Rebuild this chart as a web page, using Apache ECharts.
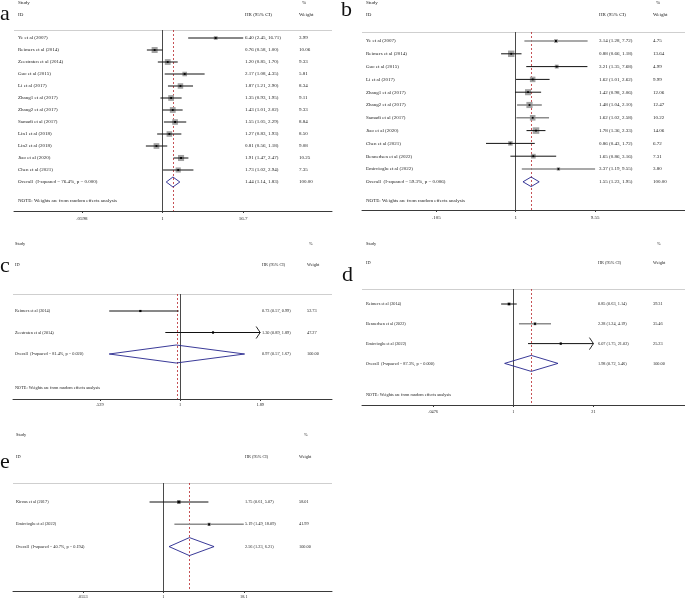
<!DOCTYPE html>
<html><head><meta charset="utf-8">
<script src="https://cdn.jsdelivr.net/npm/echarts@6/dist/echarts.min.js"></script>
<style>html,body{margin:0;padding:0;background:#fff}#c{width:685px;height:600px}</style>
</head><body><div id="c"></div>
<script>
// ---------- Panel a ----------
const studiesA = ["Ye et al (2007)", "Reimers et al (2014)", "Zeestraten et al (2014)", "Guo et al (2015)", "Li et al (2017)", "Zhang1 et al (2017)", "Zhang2 et al (2017)", "Samadi et al (2017)", "Lin1 et al (2018)", "Lin2 et al (2018)", "Jiao et al (2020)", "Chen et al (2021)"];
const hrA = [6.40, 0.76, 1.20, 2.17, 1.87, 1.35, 1.43, 1.55, 1.27, 0.81, 1.91, 1.73];
const lowA = [2.45, 0.58, 0.85, 1.08, 1.21, 0.93, 1.01, 1.05, 0.83, 0.56, 1.47, 1.02];
const highA = [16.71, 1.00, 1.70, 4.35, 2.90, 1.95, 2.02, 2.29, 1.93, 1.18, 2.47, 2.94];
const weightA = [3.99, 10.06, 9.33, 5.81, 8.34, 9.11, 9.33, 8.84, 8.50, 9.08, 10.25, 7.35];
const overallA = [1.44, 1.14, 1.83];
const overallLabelA = "Overall  (I-squared = 76.4%, p = 0.000)";
const tickValuesA = [0.0598, 1, 16.7];
const tickLabelsA = [".0598", "1", "16.7"];

// ---------- Panel b ----------
const studiesB = ["Ye et al (2007)", "Reimers et al (2014)", "Guo et al (2015)", "Li et al (2017)", "Zhang1 et al (2017)", "Zhang2 et al (2017)", "Samadi et al (2017)", "Jiao et al (2020)", "Chen et al (2021)", "Bennedsen et al (2022)", "Emircioglu et al (2022)"];
const hrB = [3.14, 0.88, 3.21, 1.62, 1.42, 1.48, 1.62, 1.78, 0.86, 1.65, 3.37];
const lowB = [1.28, 0.66, 1.35, 1.01, 0.98, 1.04, 1.02, 1.36, 0.43, 0.86, 1.19];
const highB = [7.72, 1.18, 7.68, 2.62, 2.06, 2.10, 2.58, 2.33, 1.72, 3.16, 9.55];
const weightB = [4.75, 13.64, 4.99, 9.99, 12.06, 12.47, 10.22, 14.06, 6.72, 7.31, 3.80];
const overallB = [1.55, 1.23, 1.95];
const overallLabelB = "Overall  (I-squared = 59.3%, p = 0.006)";
const tickValuesB = [0.105, 1, 9.55];
const tickLabelsB = [".105", "1", "9.55"];

// ---------- Panel c ----------
const studiesC = ["Reimers et al (2014)", "Zeestraten et al (2014)"];
const hrC = [0.73, 1.30];
const lowC = [0.57, 0.89];
const highC = [0.99, 1.89];
const weightC = [52.73, 47.27];
const overallC = [0.97, 0.57, 1.67];
const overallLabelC = "Overall  (I-squared = 81.4%, p = 0.020)";
const tickValuesC = [0.529, 1, 1.89];
const tickLabelsC = [".529", "1", "1.89"];

// ---------- Panel d ----------
const studiesD = ["Reimers et al (2014)", "Bennedsen et al (2022)", "Emircioglu et al (2022)"];
const hrD = [0.85, 2.28, 6.07];
const lowD = [0.63, 1.24, 1.75];
const highD = [1.14, 4.19, 21.02];
const weightD = [39.31, 35.46, 25.23];
const overallD = [1.98, 0.72, 5.46];
const overallLabelD = "Overall  (I-squared = 87.3%, p = 0.000)";
const tickValuesD = [0.0476, 1, 21];
const tickLabelsD = [".0476", "1", "21"];

// ---------- Panel e ----------
const studiesE = ["Kirous et al (2017)", "Emircioglu et al (2022)"];
const hrE = [1.75, 5.19];
const lowE = [0.61, 1.49];
const highE = [5.07, 18.09];
const weightE = [58.01, 41.99];
const overallE = [2.56, 1.23, 6.21];
const overallLabelE = "Overall  (I-squared = 40.7%, p = 0.194)";
const tickValuesE = [0.0553, 1, 18.1];
const tickLabelsE = [".0553", "1", "18.1"];

const SERIF = '"Liberation Serif","DejaVu Serif","Times New Roman",serif';
const log10 = Math.log10;

const panels = [
  {letter:'a', studies:studiesA, hr:hrA, low:lowA, high:highA, weight:weightA, overall:overallA, overallLabel:overallLabelA, tickValues:tickValuesA, tickLabels:tickLabelsA, note:true, arrows:[], grayCI:[],
   L:{left:14,right:332,axisY:211,sepY:30,head1:3,head2:15,studyX:18,hrX:245,wtX:299,pctX:302,x1:162.5,ppd:66,row0:38,step:12,noteY:201,dH:5,fs:5,boxK:1.9,boxColor:'#a3a3a3',letterX:0,letterY:14,tickMargin:5}},
  {letter:'b', studies:studiesB, hr:hrB, low:lowB, high:highB, weight:weightB, overall:overallB, overallLabel:overallLabelB, tickValues:tickValuesB, tickLabels:tickLabelsB, note:true, arrows:[], grayCI:[0,5,6,10],
   L:{left:362,right:685,axisY:210,sepY:32,head1:3,head2:15,studyX:366,hrX:599,wtX:653,pctX:656,x1:515.7,ppd:81,row0:41,step:12.8,noteY:201,dH:4.8,fs:5,boxK:1.75,boxColor:'#a3a3a3',letterX:341,letterY:10,tickMargin:5}},
  {letter:'c', studies:studiesC, hr:hrC, low:lowC, high:highC, weight:weightC, overall:overallC, overallLabel:overallLabelC, tickValues:tickValuesC, tickLabels:tickLabelsC, note:true, arrows:[1], grayCI:[],
   L:{left:13,right:332,axisY:399,sepY:294,head1:244,head2:265,studyX:15,hrX:262,wtX:307,pctX:309,x1:180,ppd:290,row0:311,step:21.5,noteY:388,dH:9,fs:4.3,boxK:0.3,boxColor:'#333',letterX:0,letterY:266,tickMargin:4}},
  {letter:'d', studies:studiesD, hr:hrD, low:lowD, high:highD, weight:weightD, overall:overallD, overallLabel:overallLabelD, tickValues:tickValuesD, tickLabels:tickLabelsD, note:true, arrows:[2], grayCI:[1],
   L:{left:362,right:685,axisY:405,sepY:289,head1:244,head2:263,studyX:366,hrX:598,wtX:653,pctX:657,x1:513.3,ppd:60.6,row0:304,step:19.8,noteY:395,dH:8,fs:4.3,boxK:0.45,boxColor:'#333',letterX:342,letterY:275,tickMargin:5}},
  {letter:'e', studies:studiesE, hr:hrE, low:lowE, high:highE, weight:weightE, overall:overallE, overallLabel:overallLabelE, tickValues:tickValuesE, tickLabels:tickLabelsE, note:false, arrows:[], grayCI:[1],
   L:{left:13,right:332,axisY:591,sepY:483,head1:435,head2:457,studyX:16,hrX:245,wtX:299,pctX:304,x1:163.3,ppd:64,row0:502,step:22.3,noteY:0,dH:9,fs:4.3,boxK:0.45,boxColor:'#444',letterX:0,letterY:462,tickMargin:4}}
];

function fmtCI(h, l, u) { return h.toFixed(2) + ' (' + l.toFixed(2) + ', ' + u.toFixed(2) + ')'; }
function txt(text, x, y, fs, extra) {
  return {type:'text', x:x, y:y, silent:true, style:Object.assign({text:text, font:fs + 'px ' + SERIF, fill:'#222', align:'left', verticalAlign:'middle'}, extra || {})};
}

function makeRender(P) {
  const L = P.L;
  return function (params, api) {
    const i = params.dataIndex;
    const row = api.value(1);
    const c = api.coord([api.value(0), row]);
    const lo = api.coord([api.value(2), row]);
    const hi = api.coord([api.value(3), row]);
    const y = c[1];
    const isOv = api.value(5) === 1;
    const ch = [];
    if (isOv) {
      ch.push(txt(P.overallLabel, L.studyX, y, L.fs));
      ch.push(txt(fmtCI(P.overall[0], P.overall[1], P.overall[2]), L.hrX, y, L.fs));
      ch.push(txt('100.00', L.wtX, y, L.fs));
      ch.push({type:'polygon', shape:{points:[[lo[0], y], [c[0], y - L.dH], [hi[0], y], [c[0], y + L.dH]]},
        style:{fill:'none', stroke:'#24248c', lineWidth:0.9}});
    } else {
      ch.push(txt(P.studies[i], L.studyX, y, L.fs));
      ch.push(txt(fmtCI(P.hr[i], P.low[i], P.high[i]), L.hrX, y, L.fs));
      ch.push(txt(P.weight[i].toFixed(2), L.wtX, y, L.fs));
      const s = L.boxK * Math.sqrt(api.value(4));
      ch.push({type:'rect', shape:{x:c[0] - s / 2, y:y - s / 2, width:s, height:s}, style:{fill:L.boxColor}});
      const gray = P.grayCI.indexOf(i) >= 0;
      ch.push({type:'line', shape:{x1:lo[0], y1:y, x2:hi[0], y2:y}, style:{stroke: gray ? '#8c8c8c' : '#111', lineWidth: gray ? 1.6 : 1}});
      if (P.arrows.indexOf(i) >= 0) {
        ch.push({type:'polyline', shape:{points:[[hi[0] - 4, y - 6], [hi[0], y], [hi[0] - 4, y + 6]]}, style:{stroke:'#111', lineWidth:0.9, fill:'none'}});
      }
      ch.push({type:'rect', shape:{x:c[0] - 0.9, y:y - 0.9, width:1.8, height:1.8}, style:{fill:'#000'}});
    }
    return {type:'group', children:ch};
  };
}

const option = {animation:false, backgroundColor:'#fff', grid:[], xAxis:[], yAxis:[], series:[], graphic:[]};

panels.forEach(function (P, k) {
  const L = P.L;
  const tv = P.tickValues.map(function (v) { return log10(v); });
  option.grid.push({left:L.left, top:L.sepY, width:L.right - L.left, height:L.axisY - L.sepY});
  option.xAxis.push({type:'value', gridIndex:k, min:(L.left - L.x1) / L.ppd, max:(L.right - L.x1) / L.ppd,
    axisLine:{show:true, onZero:false, lineStyle:{color:'#3a3a3a', width:1}},
    axisTick:{show:true, customValues:tv, length:2, lineStyle:{color:'#3a3a3a'}},
    axisLabel:{show:true, customValues:tv, fontSize:L.fs, fontFamily:SERIF, color:'#222', margin:L.tickMargin,
      formatter:function (v) { const idx = tv.findIndex(function (t) { return Math.abs(t - v) < 1e-6; }); return idx >= 0 ? P.tickLabels[idx] : ''; }},
    splitLine:{show:false}});
  option.yAxis.push({type:'value', gridIndex:k, inverse:true, min:(L.sepY - L.row0) / L.step, max:(L.axisY - L.row0) / L.step, show:false});

  const rows = P.studies.map(function (s, i) { return [log10(P.hr[i]), i, log10(P.low[i]), log10(P.high[i]), P.weight[i], 0]; });
  rows.push([log10(P.overall[0]), P.studies.length, log10(P.overall[1]), log10(P.overall[2]), 100, 1]);

  option.series.push({type:'custom', xAxisIndex:k, yAxisIndex:k, data:rows, clip:false, silent:true,
    encode:{x:[0, 2, 3], y:1}, renderItem:makeRender(P), z:3,
    markLine:{silent:true, symbol:'none', label:{show:false}, animation:false, z:2,
      data:[{xAxis:0, lineStyle:{color:'#4a4a4a', width:1, type:'solid'}},
            {xAxis:log10(P.overall[0]), lineStyle:{color:'#b8262b', width:0.8, type:[2, 2]}}]}});

  const g = option.graphic;
  g.push(txt('Study', L.studyX, L.head1, L.fs));
  g.push(txt('%', L.pctX, L.head1, L.fs));
  g.push(txt('ID', L.studyX, L.head2, L.fs));
  g.push(txt('HR (95% CI)', L.hrX, L.head2, L.fs));
  g.push(txt('Weight', L.wtX, L.head2, L.fs));
  if (P.note) g.push(txt('NOTE: Weights are from random effects analysis', L.studyX, L.noteY, L.fs));
  g.push({type:'line', silent:true, shape:{x1:L.left, y1:L.sepY + 0.5, x2:L.right, y2:L.sepY + 0.5}, style:{stroke:'#cfcfcf', lineWidth:1}});
  g.push(txt(P.letter, L.letterX, L.letterY, 22, {fill:'#111'}));
});

const chart = echarts.init(document.getElementById('c'), null, {renderer:'canvas'});
chart.setOption(option);
</script></body></html>
